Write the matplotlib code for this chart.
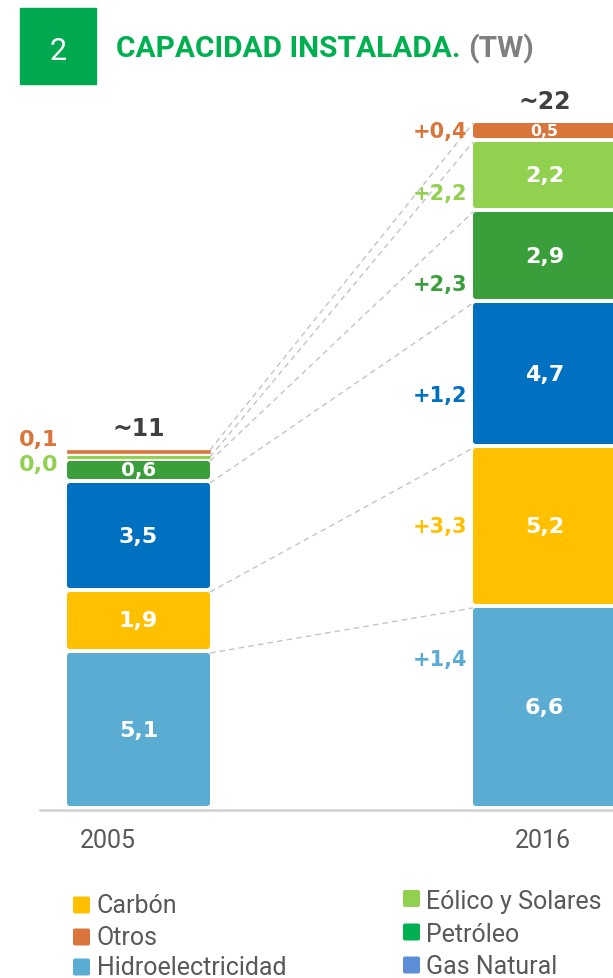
import matplotlib
matplotlib.use("Agg")
import matplotlib.pyplot as plt
from matplotlib.patches import FancyBboxPatch, Rectangle

# ---- data -----------------------------------------------------------------
years = ["2005", "2016"]
categories = ["Hidroelectricidad", "Carbón", "Gas Natural", "Petróleo",
              "Eólico y Solares", "Otros"]
cap_2005 = [5.1, 1.9, 3.5, 0.6, 0.0, 0.1]
cap_2016 = [6.6, 5.2, 4.7, 2.9, 2.2, 0.5]
growth = [1.4, 3.3, 1.2, 2.3, 2.2, 0.4]
totals = ["~11", "~22"]

legend_col1 = ["Carbón", "Otros", "Hidroelectricidad"]
legend_col2 = ["Eólico y Solares", "Petróleo", "Gas Natural"]

# ---- style ----------------------------------------------------------------
bar_colors = {
    "Hidroelectricidad": "#5BACD3",
    "Carbón": "#FFC000",
    "Gas Natural": "#0070C0",
    "Petróleo": "#3A9E3A",
    "Eólico y Solares": "#92D050",
    "Otros": "#D9743A",
}
legend_colors = dict(bar_colors)
legend_colors["Petróleo"] = "#00B050"
legend_colors["Gas Natural"] = "#5B8ED6"

text_font = "Roboto"
num_font = "DejaVu Sans"
grey = "#595959"

W, H = 613, 979
fig = plt.figure(figsize=(W / 100, H / 100), dpi=100)
ax = fig.add_axes([0, 0, 1, 1])

PX_PER_TW = 30.0
BASE_PX = 807
X0_PX, DX_PX = 138.5, 406.0
ax.set_xlim(-X0_PX / DX_PX, (W - X0_PX) / DX_PX)
ax.set_ylim((BASE_PX - H) / PX_PER_TW, BASE_PX / PX_PER_TW)
ax.axis("off")

bar_w = 143 / DX_PX
gap = 4 / PX_PER_TW
rx = 3 / DX_PX
aspect = DX_PX / PX_PER_TW
VALUE_FS = 16


def fx(px):
    return px / W


def fy(py):
    return 1 - py / H


def stack(values):
    bottoms, acc = [], 0.0
    for v in values:
        bottoms.append(acc)
        acc += v + gap
    return bottoms


def fmt(v):
    return f"{v:.1f}".replace(".", ",")


series = [cap_2005, cap_2016]
tops = []
for xi, vals in enumerate(series):
    bots = stack(vals)
    colors = [bar_colors[c] for c in categories]
    rects = ax.bar([xi] * len(vals), vals, bottom=bots, width=bar_w,
                   color=colors, linewidth=0)
    seg_tops = []
    for rect, v, c in zip(rects, vals, colors):
        x, y = rect.get_x(), rect.get_y()
        w, h = rect.get_width(), rect.get_height()
        seg_tops.append(y + h)
        h_px = h * PX_PER_TW
        if h_px < 6:
            # very thin layers: keep as rectangle with a matching outline
            rect.set_edgecolor(c)
            rect.set_linewidth(max(3.2 - h_px, 0.6) * 0.72)
            continue
        rect.set_visible(False)
        ax.add_patch(FancyBboxPatch(
            (x, y), w, h,
            boxstyle=f"round,pad=0,rounding_size={rx}",
            mutation_aspect=aspect, fc=c, ec="none"))
        # shrink the value label when the segment is shallow
        fs = min(VALUE_FS, (h_px - 3.5) / 0.73 * 0.72)
        ax.text(xi, y + h / 2, fmt(v), ha="center", va="center",
                color="white", fontsize=fs, fontweight="bold",
                family=num_font)
    tops.append(seg_tops)
    ax.annotate(totals[xi], (xi, seg_tops[-1]), xytext=(0, 7),
                textcoords="offset points", ha="center", va="bottom",
                color="#404040", fontsize=17, fontweight="bold",
                family=num_font)

# dashed connectors between segment tops
for t0, t1 in zip(tops[0], tops[1]):
    ax.plot([bar_w / 2, 1 - bar_w / 2], [t0, t1], ls=(0, (4, 3)),
            color="#C4C4C4", lw=1.0, zorder=0)

# growth labels next to the 2016 bar
label_frac = [0.74, 0.50, 0.35, 0.17, 0.22, 0.50]
bots16 = stack(cap_2016)
for v, b, d, f, c in zip(cap_2016, bots16, growth, label_frac, categories):
    ax.text(1 - bar_w / 2 - 6 / DX_PX, b + v * f, "+" + fmt(d),
            ha="right", va="center", color=bar_colors[c], fontsize=15,
            fontweight="bold", family=num_font)

# labels for the thin 2005 layers
ax.annotate(fmt(cap_2005[5]), (-bar_w / 2, tops[0][5]),
            xytext=(-6, 8), textcoords="offset points", ha="right",
            va="center", color=bar_colors["Otros"], fontsize=16,
            fontweight="bold", family=num_font)
ax.annotate(fmt(cap_2005[4]), (-bar_w / 2, tops[0][4]),
            xytext=(-6, -5), textcoords="offset points", ha="right",
            va="center", color=bar_colors["Eólico y Solares"], fontsize=16,
            fontweight="bold", family=num_font)

# baseline and year labels
ax.plot([(40 - X0_PX) / DX_PX, (W - X0_PX) / DX_PX],
        [(BASE_PX - 811) / PX_PER_TW] * 2, color="#D0D0D0", lw=1.8)
year_dx = [-30.5, -1.5]
for xi, (yr, dx) in enumerate(zip(years, year_dx)):
    ax.text(xi + dx / DX_PX, (BASE_PX - 848) / PX_PER_TW, yr,
            ha="center", va="baseline", color=grey, fontsize=18,
            family=text_font)

# heading
fig.patches.append(Rectangle((fx(20), fy(85)), fx(76), 76 / H,
                             transform=fig.transFigure, color="#00A84F"))
fig.text(fx(58), fy(60), "2", ha="center", va="baseline",
         color="white", fontsize=22, family=text_font)
fig.text(fx(116), fy(57), "CAPACIDAD INSTALADA.", ha="left",
         va="baseline", color="#00B050", fontsize=21.5, fontweight="bold",
         family=text_font)
fig.text(fx(468), fy(57), "(TW)", ha="left", va="baseline",
         color="#7F7F7F", fontsize=21.5, fontweight="bold",
         family=text_font)

# legend: two columns of swatches with labels
SW = 17


def legend_column(labels, sq_x, txt_x, sq_cy, txt_base):
    for lab, cy, by in zip(labels, sq_cy, txt_base):
        fig.patches.append(FancyBboxPatch(
            (fx(sq_x), fy(cy + SW / 2)), fx(SW), SW / H,
            boxstyle=f"round,pad=0,rounding_size={fx(2)}",
            mutation_aspect=W / H, transform=fig.transFigure,
            fc=legend_colors[lab], ec="none"))
        fig.text(fx(txt_x), fy(by), lab, ha="left", va="baseline",
                 color=grey, fontsize=18, family=text_font)


legend_column(legend_col1, 73, 97, [906, 938, 968], [913, 945, 975])
legend_column(legend_col2, 403, 426, [899.5, 933, 966], [909.5, 942, 974])

fig.savefig("out.png", dpi=100)
